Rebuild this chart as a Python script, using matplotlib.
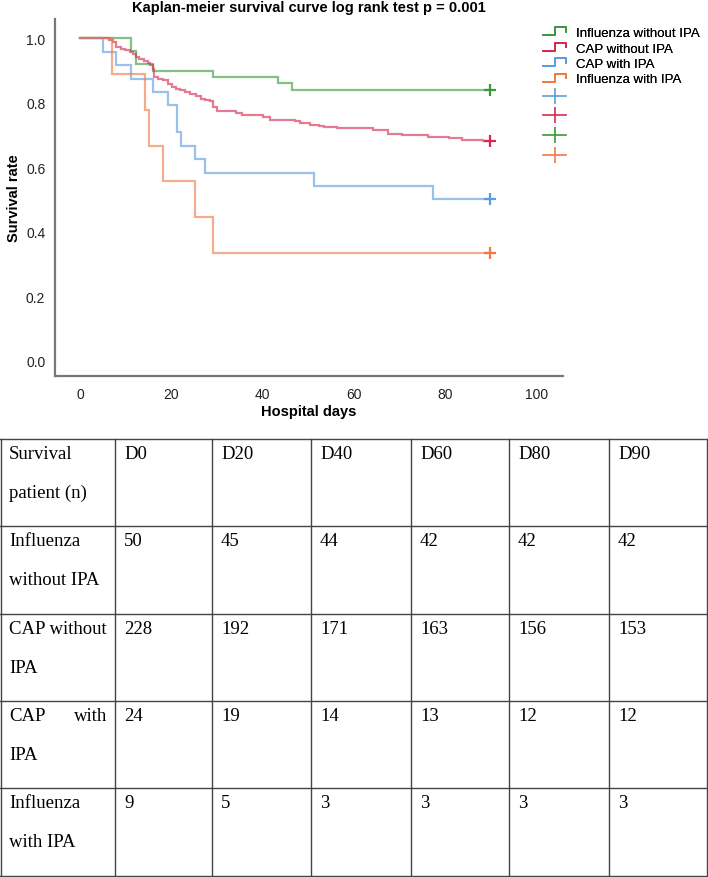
import matplotlib
matplotlib.use("Agg")
import matplotlib.pyplot as plt
from matplotlib.lines import Line2D
from matplotlib.legend_handler import HandlerBase

# ---------------- data ----------------
groups = ["Influenza without IPA", "CAP without IPA", "CAP with IPA", "Influenza with IPA"]
end_time = 90

flu_noipa_t = [0, 11.2, 12.2, 16.1, 29.2, 43.5, 46.4]
flu_noipa_s = [1.0, 0.96, 0.92, 0.90, 0.88, 0.86, 0.84]

cap_noipa_t = [0, 6.4, 7.3, 8.0, 9.1, 9.9, 11.0, 11.6, 12.2, 13.0,
               14.0, 15.0, 15.4, 15.9, 16.2, 17.2, 18.3, 19.2, 20.1, 21.1,
               21.9, 23.0, 24.1, 25.4, 26.5, 27.4, 28.5, 29.2, 30.0, 34.2,
               35.5, 40.2, 41.7, 47.1, 48.2, 50.4, 52.3, 53.5, 56.3, 64.3,
               67.6, 70.5, 76.4, 80.8, 83.7, 88.4]
cap_noipa_s = [1.0, 0.995, 0.989, 0.974, 0.968, 0.963, 0.958, 0.950, 0.943, 0.937,
               0.930, 0.924, 0.916, 0.906, 0.880, 0.875, 0.870, 0.857, 0.850, 0.844,
               0.839, 0.833, 0.826, 0.821, 0.813, 0.809, 0.804, 0.786, 0.775, 0.768,
               0.762, 0.755, 0.747, 0.742, 0.737, 0.732, 0.729, 0.724, 0.721, 0.716,
               0.703, 0.700, 0.695, 0.690, 0.685, 0.680]

cap_ipa_t = [0, 5.1, 8.0, 11.2, 16.1, 19.2, 21.2, 22.1, 25.3, 27.3, 51.3, 77.5]
cap_ipa_s = [1.0, 0.958, 0.917, 0.875, 0.833, 0.792, 0.708, 0.667, 0.625, 0.583, 0.542, 0.50]

flu_ipa_t = [0, 7.1, 14.25, 15.2, 18.1, 25.3, 29.2]
flu_ipa_s = [1.0, 0.889, 0.778, 0.667, 0.556, 0.444, 0.333]

x_ticks = [0, 20, 40, 60, 80, 100]
y_ticks = [0.0, 0.2, 0.4, 0.6, 0.8, 1.0]

table_header = ["D0", "D20", "D40", "D60", "D80", "D90"]
table_row_labels = [["Survival", "patient (n)"],
                    ["Influenza", "without IPA"],
                    ["CAP without", "IPA"],
                    ["CAP\twith", "IPA"],
                    ["Influenza", "with IPA"]]
table_counts = [[50, 45, 44, 42, 42, 42],
                [228, 192, 171, 163, 156, 153],
                [24, 19, 14, 13, 12, 12],
                [9, 5, 3, 3, 3, 3]]

# ---------------- style ----------------
col_green = "#3a9a3a"
col_red = "#d42a55"
col_blue = "#5b9be0"
col_orange = "#ee7a45"

W, H = 708, 878
fig = plt.figure(figsize=(W / 100, H / 100), dpi=100)
plt.rcParams["font.family"] = ["Liberation Sans", "DejaVu Sans"]

ax = fig.add_axes([55 / W, 1 - 377 / H, (563 - 55) / W, (377 - 20) / H])
ax.set_xlim(-5.48, 105.9)
ax.set_ylim(-0.048, 1.06)

series = [(flu_noipa_t, flu_noipa_s, col_green),
          (cap_noipa_t, cap_noipa_s, col_red),
          (cap_ipa_t, cap_ipa_s, col_blue),
          (flu_ipa_t, flu_ipa_s, col_orange)]
for t, s, c in series:
    ax.step(list(t) + [end_time], list(s) + [s[-1]], where="post",
            color=c, lw=1.6, alpha=0.62, solid_joinstyle="miter")
for t, s, c in series:
    ax.plot([end_time], [s[-1]], marker="+", ms=8, mew=1.6, color=c, ls="none")

for side in ["top", "right"]:
    ax.spines[side].set_visible(False)
for side in ["left", "bottom"]:
    ax.spines[side].set_color("#777777")
    ax.spines[side].set_linewidth(1.6)
ax.set_xticks(x_ticks)
ax.set_yticks(y_ticks)
ax.set_yticklabels([f"{v:.1f}" for v in y_ticks])
ax.tick_params(length=0, labelsize=10, colors="#222222", pad=7)
ax.tick_params(axis="x", pad=8)

fig.text(309 / W, 1 - 8 / H, "Kaplan-meier survival curve log rank test p = 0.001",
         ha="center", va="center", fontsize=10.5, fontweight="bold")
fig.text(309 / W, 1 - 412 / H, "Hospital days", ha="center", va="center",
         fontsize=10.5, fontweight="bold")
fig.text(14 / W, 1 - 198 / H, "Survival rate", ha="center", va="center",
         rotation=90, fontsize=10.5, fontweight="bold")


# ---------------- legends ----------------
class StepHandler(HandlerBase):
    def create_artists(self, legend, orig_handle, xdescent, ydescent, width, height, fontsize, trans):
        x0, w, h = -xdescent, width, height
        y0 = -ydescent
        xs = [x0, x0 + 0.5 * w, x0 + 0.5 * w, x0 + w, x0 + w]
        ys = [y0 + 0.1 * h, y0 + 0.1 * h, y0 + 0.95 * h, y0 + 0.95 * h, y0 + 0.45 * h]
        ln = Line2D(xs, ys, color=orig_handle.get_color(), lw=1.3, transform=trans)
        return [ln]


step_handles = [Line2D([], [], color=c) for c in [col_green, col_red, col_blue, col_orange]]
leg1 = fig.legend(step_handles, groups, handler_map={Line2D: StepHandler()},
                  loc="upper left", bbox_to_anchor=(543 / W, 1 - 28 / H),
                  frameon=False, fontsize=9.5, handlelength=1.75, handletextpad=0.75,
                  labelspacing=0.24, borderpad=0, borderaxespad=0)

cens_handles = [Line2D([], [], color=c, marker="|", ms=11, mew=1.2, lw=1.2)
                for c in [col_blue, col_red, col_green, col_orange]]
leg2 = fig.legend(cens_handles, ["", "", "", ""], numpoints=1,
                  loc="upper left", bbox_to_anchor=(543 / W, 1 - 92 / H),
                  frameon=False, fontsize=9.5, handlelength=1.75, handletextpad=0.75,
                  labelspacing=0.57, borderpad=0, borderaxespad=0)
fig.add_artist(leg1)

# ---------------- table ----------------
tab = fig.add_axes([0, 0, 1, 1])
tab.set_xlim(0, W)
tab.set_ylim(H, 0)
tab.axis("off")

row_edges = [440, 527, 615, 702, 789, 877]
col_edges = [0.6, 115, 212, 311, 411, 509, 609, 707.4]
for y in row_edges:
    tab.plot([0, W], [y, y], color="#444444", lw=1.0)
for x in col_edges:
    tab.plot([x, x], [row_edges[0], row_edges[-1]], color="#444444", lw=1.0)

serif = ["Liberation Serif", "DejaVu Serif"]
fs = 13.5
for r, lines in enumerate(table_row_labels):
    top = row_edges[r]
    for k, line in enumerate(lines):
        yb = top + 19 + 39 * k
        if "\t" in line:
            a, b = line.split("\t")
            tab.text(9, yb, a, ha="left", va="baseline", fontsize=fs, family=serif)
            tab.text(107, yb, b, ha="right", va="baseline", fontsize=fs, family=serif)
        else:
            tab.text(9, yb, line, ha="left", va="baseline", fontsize=fs, family=serif)
for j, h in enumerate(table_header):
    tab.text(col_edges[j + 1] + 9, row_edges[0] + 19, h, ha="left", va="baseline",
             fontsize=fs, family=serif)
for r, row in enumerate(table_counts):
    for j, v in enumerate(row):
        tab.text(col_edges[j + 1] + 9, row_edges[r + 1] + 19, str(v), ha="left",
                 va="baseline", fontsize=fs, family=serif)

fig.savefig("out.png", dpi=100)
